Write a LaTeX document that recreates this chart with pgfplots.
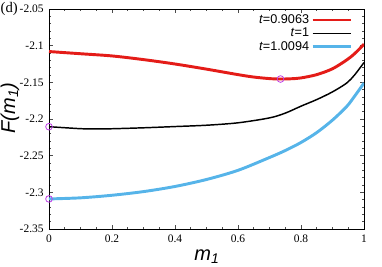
\documentclass[border=0pt]{standalone}
\usepackage{pgfplots}
\pgfplotsset{compat=1.18}
\usepackage{fontspec}
\setmainfont{Liberation Serif}
\newfontfamily\arial{Liberation Sans}
\definecolor{cred}{RGB}{228,28,24}
\definecolor{cblue}{RGB}{86,180,233}
\definecolor{cmark}{RGB}{190,60,230}
\begin{document}
\begin{tikzpicture}
\begin{axis}[at={(0pt,0pt)}, anchor=south west, scale only axis,
  width=236.25pt, height=165pt,
  xmin=0, xmax=1, ymin=-2.35, ymax=-2.05,
  xtick={0,0.2,0.4,0.6,0.8,1},
  ytick={-2.35,-2.3,-2.25,-2.2,-2.15,-2.1,-2.05},
  minor x tick num=3, minor y tick num=4,
  tick align=inside,
  major tick length=3pt, minor tick length=1.6pt,
  axis line style={line width=0.7pt},
  every tick/.style={black!70, line width=0.5pt},
  /pgf/number format/assume math mode=true,
  ticklabel style={font=\fontsize{8.6}{9}\selectfont},
  yticklabel style={xshift=-0.5pt},
  xticklabel style={yshift=-1pt},
  legend plot pos=right,
  legend cell align=right,
  legend image code/.code={\draw[#1] (0pt,0pt) -- (29pt,0pt);},
  legend style={draw=none, fill=none, at={(rel axis cs:0.965,0.985)}, anchor=north east,
    font=\arial\fontsize{9.5}{9.5}\selectfont, row sep=-1pt, inner sep=0pt,
    nodes={inner sep=1.5pt}},
]
\addplot[cred, line width=2.2pt, smooth] coordinates {
(0,-2.108) (0.1,-2.111) (0.2,-2.114) (0.3,-2.119) (0.4,-2.125) (0.5,-2.132)
(0.6,-2.1395) (0.65,-2.1428) (0.7,-2.1449) (0.735,-2.1455) (0.77,-2.1451) (0.8,-2.1440)
(0.85,-2.1395) (0.9,-2.1315) (0.945,-2.1195) (0.97,-2.111) (1,-2.098)};
\addlegendentry{\textit{t}=0.9063}
\addplot[black, line width=1.1pt, smooth] coordinates {
(0,-2.2105) (0.1,-2.2132) (0.15,-2.2136) (0.2,-2.2133) (0.3,-2.2120) (0.4,-2.2103)
(0.5,-2.2085) (0.6,-2.2052) (0.7,-2.1985) (0.75,-2.1920) (0.8,-2.1825) (0.85,-2.1735)
(0.9,-2.1630) (0.945,-2.1510) (0.97,-2.1400) (1,-2.1230)};
\addlegendentry{\textit{t}=1}
\addplot[cblue, line width=2.2pt, smooth] coordinates {
(0,-2.309) (0.1,-2.3075) (0.2,-2.304) (0.3,-2.299) (0.4,-2.292) (0.5,-2.2825)
(0.6,-2.270) (0.7,-2.2525) (0.75,-2.2430) (0.8,-2.232) (0.85,-2.2185) (0.9,-2.2015)
(0.945,-2.183) (0.97,-2.169) (1,-2.151)};
\addlegendentry{\textit{t}=1.0094}
\addplot[only marks, mark=o, mark size=2.5pt, cmark, mark options={line width=0.6pt}, forget plot] coordinates {
(0,-2.2105) (0,-2.309) (0.735,-2.1455)};
\end{axis}
\node[font=\arial\itshape\fontsize{15}{15}\selectfont] at (118.5pt,-21pt) {m\textsubscript{1}};
\node[rotate=90, font=\arial\itshape\fontsize{15}{15}\selectfont] at (-29.3pt,90.75pt) {F(m\textsubscript{1})};
\node[anchor=base west, inner sep=0pt, font=\fontsize{11}{11}\selectfont] at (-36.4pt,162pt) {(d)};
\pgfresetboundingbox
\path[use as bounding box] (-36.75pt,-28.5pt) rectangle (249.75pt,171.75pt);
\end{tikzpicture}
\end{document}
